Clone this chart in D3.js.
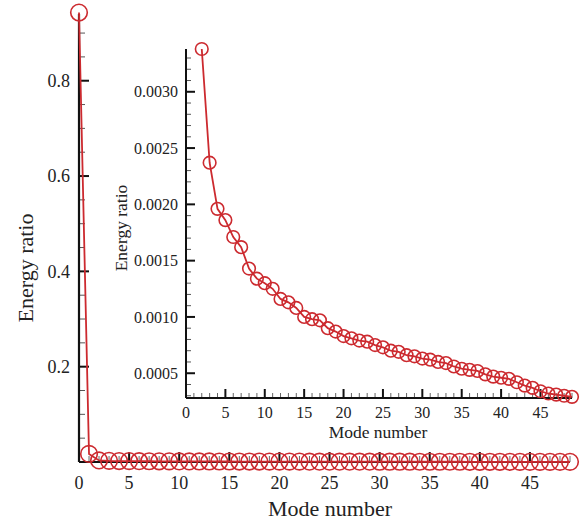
<!DOCTYPE html>
<html>
<head>
<meta charset="utf-8">
<script src="https://cdn.jsdelivr.net/npm/d3@7"></script>
<style>
html,body{margin:0;padding:0;background:#fff;}
svg{display:block;}
text{font-family:"Liberation Serif","Times New Roman",serif;fill:#222;}
</style>
</head>
<body>
<svg id="chart" width="582" height="524"></svg>
<script>
// ---- data ----
const energyRatio = [
  0.943, 0.017, 0.00338, 0.00237, 0.00196, 0.00186, 0.00171, 0.00162, 0.00143, 0.00134,
  0.00130, 0.00125, 0.00116, 0.00113, 0.00108, 0.00100, 0.00098, 0.00097, 0.00090, 0.00087,
  0.00083, 0.00081, 0.00079, 0.00078, 0.00075, 0.00073, 0.00070, 0.00069, 0.00066, 0.00065,
  0.00063, 0.00062, 0.00060, 0.00059, 0.00056, 0.00054, 0.00053, 0.00052, 0.00049, 0.00047,
  0.00046, 0.00045, 0.00042, 0.00039, 0.00037, 0.00034, 0.00032, 0.00031, 0.00030, 0.00029
];
const mainYTicks = [0.2, 0.4, 0.6, 0.8];
const mainXTicks = [0, 5, 10, 15, 20, 25, 30, 35, 40, 45];
const insetYTicks = [0.0005, 0.0010, 0.0015, 0.0020, 0.0025, 0.0030];
const insetXTicks = [0, 5, 10, 15, 20, 25, 30, 35, 40, 45];
const insetFirstMode = 2;
const xTitle = "Mode number";
const yTitle = "Energy ratio";

const points = energyRatio.map((v, i) => ({mode: i, value: v}));
const insetPoints = points.filter(d => d.mode >= insetFirstMode);

const RED = "#cc2a2f";
const svg = d3.select("#chart");

function drawPanel(cfg) {
  const g = svg.append("g");
  const x = d3.scaleLinear().domain(cfg.xDomain).range(cfg.xRange);
  const y = d3.scaleLinear().domain(cfg.yDomain).range(cfg.yRange);
  const x0 = cfg.xRange[0], y0 = cfg.yRange[0];

  // minor ticks
  const xMinor = d3.range(Math.ceil(cfg.xDomain[0]), Math.floor(cfg.xDomain[1]) + 1, cfg.xMinorStep)
    .filter(v => !cfg.xTicks.includes(v));
  g.selectAll(".xminor").data(xMinor).join("line")
    .attr("x1", d => x(d)).attr("x2", d => x(d))
    .attr("y1", y0).attr("y2", y0 - cfg.minorLen)
    .attr("stroke", "#666").attr("stroke-width", 1);
  const yMinorAll = d3.range(0, cfg.yDomain[1] + 1e-12, cfg.yMinorStep)
    .filter(v => v >= cfg.yDomain[0] - 1e-12)
    .filter(v => !cfg.yTicks.some(t => Math.abs(t - v) < cfg.yMinorStep / 10));
  g.selectAll(".yminor").data(yMinorAll).join("line")
    .attr("x1", x0).attr("x2", x0 + cfg.minorLen)
    .attr("y1", d => y(d)).attr("y2", d => y(d))
    .attr("stroke", "#555").attr("stroke-width", 1);

  // major ticks
  g.selectAll(".xmajor").data(cfg.xTicks).join("line")
    .attr("x1", d => x(d)).attr("x2", d => x(d))
    .attr("y1", y0).attr("y2", y0 - cfg.majorLen)
    .attr("stroke", "#111").attr("stroke-width", 2);
  g.selectAll(".ymajor").data(cfg.yTicks).join("line")
    .attr("x1", x0).attr("x2", x0 + cfg.majorLen)
    .attr("y1", d => y(d)).attr("y2", d => y(d))
    .attr("stroke", "#111").attr("stroke-width", 2);

  // axis lines
  g.append("line").attr("x1", x0).attr("x2", cfg.xRange[1]).attr("y1", y0).attr("y2", y0)
    .attr("stroke", "#111").attr("stroke-width", cfg.axisWidth);
  g.append("line").attr("x1", x0).attr("x2", x0).attr("y1", y0).attr("y2", cfg.yRange[1])
    .attr("stroke", "#111").attr("stroke-width", cfg.axisWidth);

  // tick labels
  g.selectAll(".xlab").data(cfg.xTicks).join("text")
    .attr("x", d => x(d)).attr("y", cfg.xLabelBaseline)
    .attr("text-anchor", "middle").attr("font-size", cfg.tickFont)
    .text(d => d);
  g.selectAll(".ylab").data(cfg.yTicks).join("text")
    .attr("x", cfg.yLabelRight).attr("y", d => y(d))
    .attr("dy", "0.35em")
    .attr("text-anchor", "end").attr("font-size", cfg.tickFont)
    .text(d => cfg.yFormat(d));

  // titles
  g.append("text").attr("x", cfg.xTitlePos[0]).attr("y", cfg.xTitlePos[1])
    .attr("text-anchor", "middle").attr("font-size", cfg.titleFont).text(xTitle);
  g.append("text")
    .attr("transform", `translate(${cfg.yTitlePos[0]},${cfg.yTitlePos[1]}) rotate(-90)`)
    .attr("text-anchor", "middle").attr("dy", "0.35em")
    .attr("font-size", cfg.titleFont).text(yTitle);

  // series
  const line = d3.line().x(d => x(d.mode)).y(d => y(d.value));
  g.append("path").datum(cfg.data).attr("d", line)
    .attr("fill", "none").attr("stroke", RED).attr("stroke-width", 1.8);
  g.selectAll(".pt").data(cfg.data).join("circle")
    .attr("cx", d => x(d.mode)).attr("cy", d => y(d.value))
    .attr("r", cfg.r).attr("fill", "none")
    .attr("stroke", RED).attr("stroke-width", 1.6);
}

// main panel
drawPanel({
  data: points,
  xDomain: [0, 49], xRange: [79, 570],
  yDomain: [0, 0.94], yRange: [462, 14],
  xTicks: mainXTicks, yTicks: mainYTicks,
  xMinorStep: 1, yMinorStep: 0.05,
  majorLen: 10, minorLen: 6, axisWidth: 2.2,
  tickFont: 18, titleFont: 22,
  xLabelBaseline: 489, yLabelRight: 70,
  yFormat: d => d3.format(".1f")(d),
  xTitlePos: [330, 516], yTitlePos: [25, 268],
  r: 8.3
});

// inset panel
drawPanel({
  data: insetPoints,
  xDomain: [0, 49], xRange: [186, 572],
  yDomain: [0.00028, 0.00338], yRange: [398, 49],
  xTicks: insetXTicks, yTicks: insetYTicks,
  xMinorStep: 1, yMinorStep: 0.0001,
  majorLen: 9, minorLen: 5, axisWidth: 2,
  tickFont: 16, titleFont: 17.5,
  xLabelBaseline: 418, yLabelRight: 178,
  yFormat: d => d3.format(".4f")(d),
  xTitlePos: [378, 438], yTitlePos: [121, 228],
  r: 6.3
});
</script>
</body>
</html>
